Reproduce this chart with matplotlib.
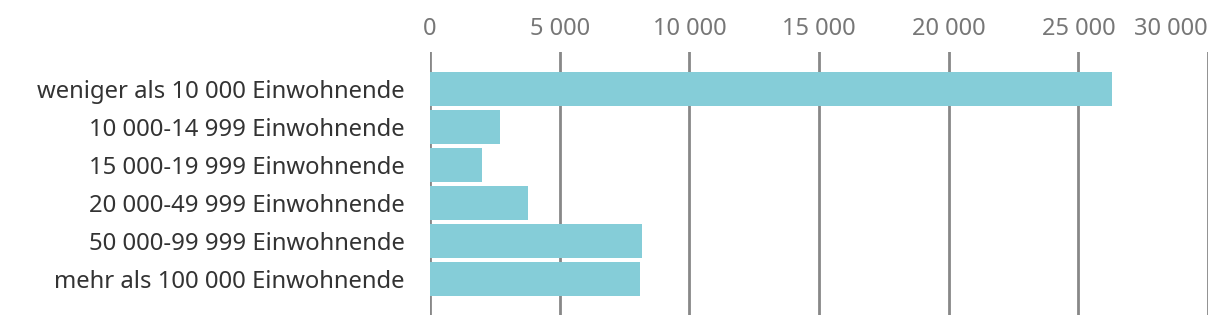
import matplotlib
matplotlib.use("Agg")
import matplotlib.pyplot as plt

categories = [
    "weniger als 10 000 Einwohnende",
    "10 000-14 999 Einwohnende",
    "15 000-19 999 Einwohnende",
    "20 000-49 999 Einwohnende",
    "50 000-99 999 Einwohnende",
    "mehr als 100 000 Einwohnende",
]
values = [26290, 2700, 2000, 3780, 8170, 8100]
ticks = [0, 5000, 10000, 15000, 20000, 25000, 30000]
tick_labels = ["0", "5 000", "10 000", "15 000", "20 000", "25 000", "30 000"]

plt.rcParams["font.family"] = ["Noto Sans", "DejaVu Sans"]

fig = plt.figure(figsize=(12.2, 3.26), dpi=100)
ax = fig.add_axes([430 / 1220, 1 - 315 / 326, 778 / 1220, 263 / 326])

y = list(range(len(categories)))
ax.barh(y, values, height=0.89, color="#85cdd8", zorder=2)

ax.set_xlim(0, 30000)
ax.set_ylim(5.95, -0.97)
ax.set_xticks(ticks)
ax.set_xticklabels(tick_labels)
ax.xaxis.tick_top()
ax.tick_params(axis="x", length=0, pad=8, labelsize=17, labelcolor="#777777")
ax.set_yticks(y)
ax.set_yticklabels(categories)
ax.tick_params(axis="y", length=0, pad=18, labelsize=17.2, labelcolor="#333333")
ax.get_xticklabels()[-1].set_horizontalalignment("right")

ax.grid(axis="x", color="#888888", linewidth=2, zorder=1)
for s in ax.spines.values():
    s.set_visible(False)

fig.savefig("out.png", dpi=100)
